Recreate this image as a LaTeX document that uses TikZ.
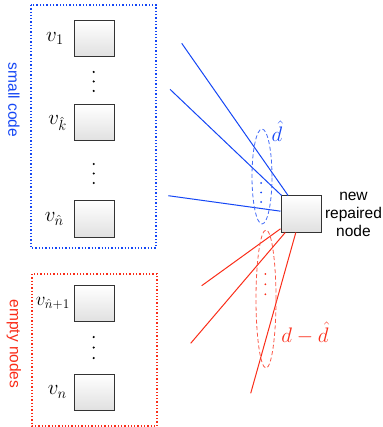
\RequirePackage{fix-cm}
\documentclass[tikz,border=0pt]{standalone}
\usepackage{fontspec}
\newfontfamily\labelfont{Liberation Sans}
\usetikzlibrary{positioning,shapes.geometric}
\definecolor{codeblue}{RGB}{20,70,245}
\definecolor{emptyred}{RGB}{250,45,25}
\tikzset{
  storage/.style={draw=black!80, line width=1pt, top color=white, bottom color=black!12,
    minimum width=40pt, minimum height=36pt, inner sep=0pt},
  vname/.style={font=\fontsize{21}{24}\selectfont, inner sep=1pt},
  side/.style={font=\labelfont\fontsize{15.5}{18}\selectfont, rotate=-90},
  group/.style={dotted, line width=1.3pt},
  helper/.style={line width=1pt},
  bag/.style={ellipse, draw, dash pattern=on 4pt off 2.5pt, line width=0.8pt, inner sep=0pt, minimum width=20pt},
}
\begin{document}
\begin{tikzpicture}[x=1pt,y=-1pt]
  \useasboundingbox (0,0) rectangle (382,427);
  % the two groups of nodes
  \draw[group, codeblue] (31,5) rectangle (156,248);
  \draw[group, emptyred] (32,274) rectangle (157,426);
  \node[side, text=codeblue] (small) at (14,100) {small code};
  \node[side, text=emptyred] (empty) at (14,344) {empty nodes};
  \begin{scope}[every node/.style={storage}]
    \node (v1) at (94.5,38.5) {};
    \node (vk) at (94.5,123) {};
    \node (vnh) at (94.5,219) {};
    \node (vnp) at (94.5,303.5) {};
    \node (vn) at (94.5,392) {};
    \node (new) at (301,214) {};
  \end{scope}
  \begin{scope}[every node/.style={vname}]
    \node[left=9pt of v1] (lv1) {$v_1$};
    \node[left=6pt of vk] (lvk) {$v_{\hat k}$};
    \node[left=9pt of vnh] (lvnh) {$v_{\hat n}$};
    \node[left=3pt of vnp, font=\fontsize{19}{22}\selectfont] (lvnp) {$v_{\hat n+1}$};
    \node[left=6pt of vn] (lvn) {$v_n$};
  \end{scope}
  \node[right=0pt of new, align=center, font=\labelfont\fontsize{15.5}{18}\selectfont] (newtxt) {new\\repaired\\node};
  % dots
  \foreach \y in {72,81.5,91,164,173.5,183}
    \fill (93.7,\y) circle (1.2pt);
  \foreach \y in {337,347.5,358}
    \fill (93.7,\y) circle (1.2pt);
  % helpers
  \coordinate (b1) at (181.7,43.3);
  \coordinate (b2) at (170,89.3);
  \coordinate (b3) at (168.3,195.7);
  \coordinate (r1) at (201.7,285.7);
  \coordinate (r2) at (190.7,343.3);
  \coordinate (r3) at (250.7,393.3);
  \begin{scope}[every path/.style={helper}]
    \draw[codeblue] (b1) -- (new);
    \draw[codeblue] (b2) -- (new);
    \draw[codeblue] (b3) -- (new);
    \draw[emptyred] (r1) -- (new);
    \draw[emptyred] (r2) -- (new);
    \draw[emptyred] (r3) -- (new);
  \end{scope}
  \node[bag, draw=codeblue!80, minimum height=95pt] (bluebag) at (262,176.5) {};
  \node[bag, draw=emptyred!80, minimum height=138pt] (redbag) at (266,299) {};
  \foreach \y in {183,192.5,202}
    \fill[codeblue] (261,\y) circle (1pt);
  \foreach \y in {274,284.3,294.3}
    \fill[emptyred] (265.3,\y) circle (1pt);
  \node[vname, text=codeblue] (dh) at (277,131) {$\hat d$};
  \node[vname, text=emptyred] (ddh) at (305,333) {$d-\hat d$};
\end{tikzpicture}
\end{document}
